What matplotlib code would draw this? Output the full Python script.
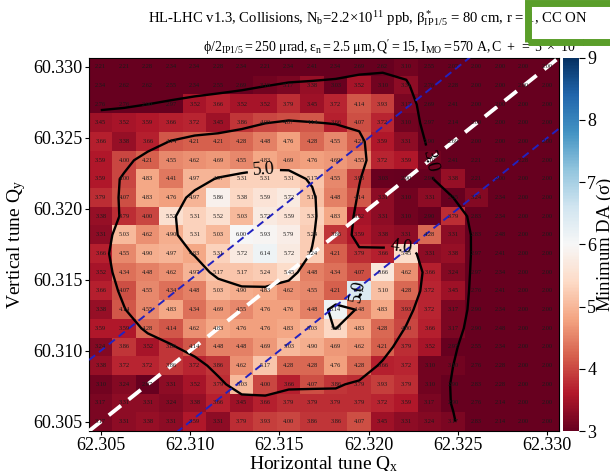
import numpy as np
import matplotlib
matplotlib.use("Agg")
import matplotlib.pyplot as plt
from matplotlib.patches import Rectangle

plt.rcParams["font.family"] = "serif"
plt.rcParams["font.serif"] = ["Liberation Serif", "DejaVu Serif"]
plt.rcParams["mathtext.fontset"] = "stix"
plt.rcParams["mathtext.default"] = "regular"

# Scan grid
qx = np.linspace(62.305, 62.330, 20)
qy = np.linspace(60.305, 60.330, 20)

# Minimum DA (sigma), rows listed from top (Qy=60.330) to bottom (Qy=60.305)
da_top_to_bottom = [
    [2.21, 2.21, 2.28, 2.34, 2.34, 2.28, 2.34, 2.21, 2.34, 2.41, 2.34, 2.69, 2.62, 3.10, 2.55, 2.07, 2.00, 2.00, 2.00, 2.00],
    [2.34, 2.62, 2.62, 2.55, 2.34, 2.55, 2.69, 3.10, 3.17, 3.38, 3.03, 3.52, 3.10, 3.31, 2.76, 2.28, 2.00, 2.00, 2.00, 2.00],
    [2.76, 2.76, 2.90, 2.97, 3.52, 3.66, 3.52, 3.52, 3.79, 3.45, 3.72, 4.14, 3.93, 3.17, 2.69, 2.41, 2.00, 2.00, 2.00, 2.00],
    [3.45, 3.52, 3.59, 3.66, 3.72, 3.45, 3.86, 4.00, 4.07, 4.14, 3.66, 4.07, 3.72, 3.10, 2.97, 2.14, 2.00, 2.00, 2.00, 2.00],
    [3.66, 3.38, 3.66, 4.14, 4.21, 4.21, 4.28, 4.48, 4.76, 4.28, 4.55, 4.21, 3.59, 3.31, 2.90, 2.69, 2.00, 2.00, 2.00, 2.00],
    [3.59, 4.00, 4.21, 4.55, 4.62, 4.69, 4.55, 4.83, 4.69, 4.76, 4.69, 4.55, 3.72, 3.59, 3.10, 2.41, 2.21, 2.00, 2.28, 2.00],
    [3.59, 4.00, 4.83, 4.41, 4.97, 4.97, 5.31, 5.31, 5.31, 5.17, 4.55, 3.93, 3.03, 2.90, 2.90, 3.38, 2.21, 2.00, 2.00, 2.00],
    [3.79, 4.07, 4.83, 4.76, 4.97, 5.86, 5.38, 5.59, 5.72, 5.10, 4.48, 4.14, 3.31, 3.10, 3.31, 2.55, 3.24, 2.34, 2.00, 2.00],
    [3.38, 3.79, 4.00, 5.52, 5.31, 5.52, 5.03, 5.72, 5.59, 5.31, 4.83, 3.52, 3.31, 3.10, 2.90, 3.79, 2.83, 2.34, 2.00, 2.00],
    [3.31, 5.03, 4.62, 4.90, 5.31, 5.03, 6.00, 5.93, 5.79, 5.24, 3.86, 3.59, 3.38, 3.31, 4.28, 3.31, 2.83, 2.48, 2.00, 2.00],
    [3.66, 4.55, 4.90, 4.97, 4.83, 5.31, 5.72, 6.14, 5.72, 5.24, 4.21, 3.79, 3.66, 5.45, 3.31, 3.38, 2.97, 2.41, 2.00, 2.00],
    [3.52, 4.34, 4.48, 4.62, 4.97, 5.17, 5.17, 5.24, 5.45, 4.48, 4.34, 4.07, 5.66, 4.62, 3.66, 3.24, 2.97, 2.34, 2.00, 2.00],
    [3.66, 4.07, 4.55, 4.34, 4.48, 5.03, 4.90, 4.83, 4.62, 4.55, 4.21, 6.41, 5.10, 4.28, 3.72, 3.45, 2.76, 2.41, 2.00, 2.00],
    [3.38, 4.14, 4.55, 4.83, 4.34, 4.69, 4.55, 4.76, 4.76, 4.48, 6.14, 4.48, 4.83, 3.93, 3.72, 3.17, 2.90, 2.34, 2.00, 2.00],
    [3.59, 3.59, 4.28, 4.14, 4.62, 4.83, 4.76, 4.76, 4.83, 5.03, 5.38, 4.83, 4.28, 4.00, 3.66, 3.17, 2.90, 2.48, 2.00, 2.00],
    [3.24, 3.86, 3.52, 3.86, 4.14, 4.48, 4.48, 4.69, 5.03, 4.90, 4.69, 4.62, 4.21, 3.79, 3.52, 2.97, 2.55, 2.34, 2.00, 2.00],
    [3.38, 3.72, 3.72, 3.86, 3.72, 3.86, 4.62, 5.17, 4.28, 4.28, 4.76, 4.28, 3.66, 3.72, 3.10, 3.10, 2.76, 2.28, 2.00, 2.00],
    [3.10, 3.24, 2.97, 3.31, 3.52, 3.79, 5.03, 4.00, 3.66, 4.07, 3.86, 3.79, 3.93, 3.79, 3.10, 2.90, 2.83, 2.28, 2.00, 2.00],
    [3.17, 3.31, 3.31, 3.24, 3.38, 3.66, 3.45, 3.66, 3.79, 3.79, 3.79, 3.79, 3.72, 3.59, 3.17, 2.90, 2.76, 2.14, 2.00, 2.00],
    [3.17, 3.31, 3.38, 3.31, 3.59, 3.31, 3.79, 3.93, 4.00, 3.86, 3.86, 4.07, 3.45, 3.31, 3.24, 3.17, 2.83, 2.14, 2.00, 2.00],
]
da = np.array(da_top_to_bottom)[::-1]  # row 0 -> Qy = 60.305

contour_levels = [3.0, 4.0, 5.0]
cbar_ticks = [3, 4, 5, 6, 7, 8, 9]
x_ticks = [62.305, 62.310, 62.315, 62.320, 62.325, 62.330]
y_ticks = [60.305, 60.310, 60.315, 60.320, 60.325, 60.330]
resonance_offsets = [-0.005, 0.0, 0.005]  # Qy = Qx - 2 + offset


def gauss_smooth(z, sigma):
    r = int(np.ceil(3 * sigma))
    k = np.exp(-0.5 * (np.arange(-r, r + 1) / sigma) ** 2)
    k /= k.sum()
    zp = np.pad(z, r, mode="edge")
    t = np.apply_along_axis(lambda m: np.convolve(m, k, mode="valid"), 0, zp)
    return np.apply_along_axis(lambda m: np.convolve(m, k, mode="valid"), 1, t)


W, H = 610, 471
fig = plt.figure(figsize=(W / 100, H / 100), dpi=100)


def px_axes(x0, y0, x1, y1):
    return [x0 / W, 1 - y1 / H, (x1 - x0) / W, (y1 - y0) / H]


ax = fig.add_axes(px_axes(89, 57.6, 559, 431))
cax = fig.add_axes(px_axes(563, 57.6, 579, 431))

dx = qx[1] - qx[0]
dy = qy[1] - qy[0]
ext = [qx[0] - dx / 2, qx[-1] + dx / 2, qy[0] - dy / 2, qy[-1] + dy / 2]
im = ax.imshow(da, origin="lower", extent=ext, cmap="RdBu", vmin=3, vmax=9,
               aspect="auto", interpolation="nearest")

for i, yv in enumerate(qy):
    for j, xv in enumerate(qx):
        ax.text(xv, yv, f"{da[i, j]:.2f}", ha="center", va="center",
                fontsize=4.6, color="#1a1a1a", zorder=4)

da_s = gauss_smooth(da, 0.9)
cs = ax.contour(qx, qy, da_s, levels=contour_levels, colors="black", linewidths=1.7, zorder=2)
ax.clabel(cs, fmt="%.1f", fontsize=13, inline=True,
          manual=[(62.3141, 60.3230), (62.3190, 60.3146), (62.3218, 60.3178), (62.3228, 60.3232)])

xl = np.array([ext[0], ext[1]])
for off in resonance_offsets:
    if off == 0.0:
        ax.plot(xl, xl - 2 + off, color="white", lw=2.8, ls=(0, (4, 2.5)), zorder=3)
    else:
        ax.plot(xl, xl - 2 + off, color="#2222c0", lw=1.4, ls=(0, (4, 2.5)), zorder=3)

ax.set_xlim(ext[0], ext[1])
ax.set_ylim(ext[2], ext[3])
ax.set_xticks(x_ticks)
ax.set_yticks(y_ticks)
ax.set_xticklabels([f"{t:.3f}" for t in x_ticks])
ax.set_yticklabels([f"{t:.3f}" for t in y_ticks])
ax.tick_params(labelsize=13, length=3, direction="out", pad=1.5)
ax.set_xlabel(r"Horizontal tune Q$_x$", fontsize=14, labelpad=0)
ax.set_ylabel(r"Vertical tune Q$_y$", fontsize=14, labelpad=4)

cb = fig.colorbar(im, cax=cax, ticks=cbar_ticks)
cb.outline.set_visible(False)
cb.ax.tick_params(labelsize=13, length=4, pad=2)
cb.set_label(r"Minimum DA ($\sigma$)", fontsize=13.5, labelpad=-1)

line1 = (r"HL-LHC v1.3, Collisions, N$_b$=2.2$\times$10$^{11}$ ppb, "
         r"$\beta^*_{IP1/5}$ = 80 cm, r = 1, CC ON")
line2 = (r"$\phi/2_{IP1/5} = 250\ \mu rad, \epsilon_n = 2.5\ \mu m, "
         r"Q' = 15, I_{MO} = 570\ A, C\ +\ =\ 5\ \times\ 10^{-4}$")
fig.text(148 / W, 1 - 22 / H, line1, fontsize=10.6, ha="left", va="baseline", zorder=-1)
fig.text(203 / W, 1 - 52 / H, line2, fontsize=10.0, ha="left", va="baseline", zorder=-1)

rect = Rectangle((527.5 / W, 1 - 41.5 / H), (640 - 527.5) / W, (41.5 - 2.5) / H,
                 transform=fig.transFigure, fill=False, edgecolor="#5a9e2a",
                 linewidth=5, zorder=10, clip_on=False)
fig.add_artist(rect)

fig.savefig("out.png", dpi=100)
